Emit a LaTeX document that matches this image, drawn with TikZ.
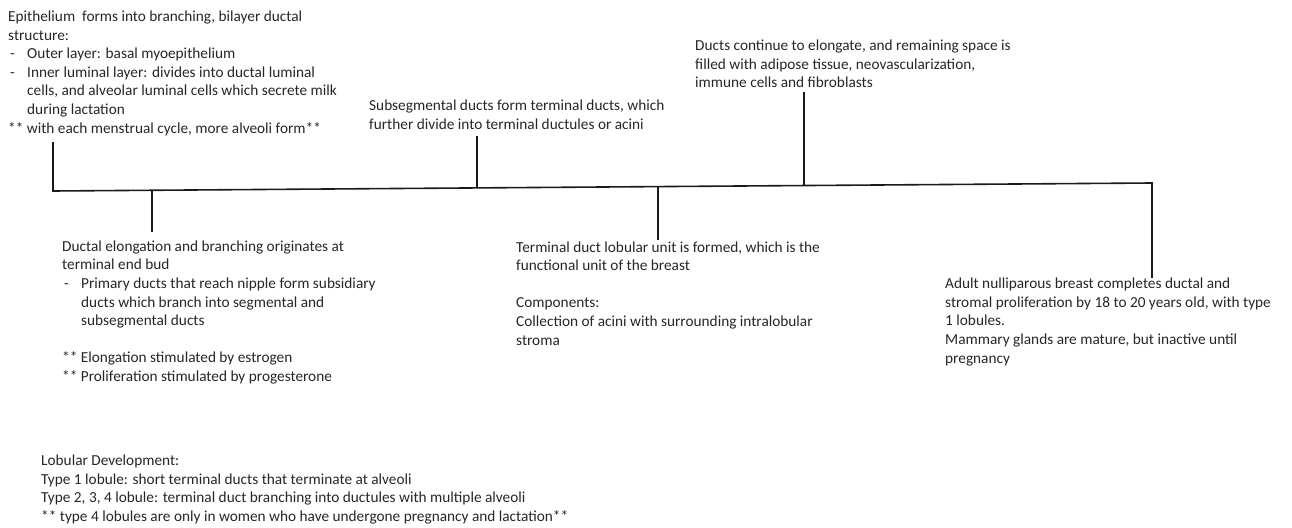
\documentclass[tikz,border=0pt]{standalone}
\usepackage{fontspec}
\setmainfont{Carlito}
\definecolor{txt}{HTML}{262626}
\definecolor{ln}{HTML}{1A1A1A}
\newcommand{\dashitem}{\makebox[19pt][l]{\hspace{2pt}-}}
\newcommand{\contitem}{\hspace*{19pt}}
\begin{document}
\begin{tikzpicture}[x=1pt,y=-1pt,
  lbl/.style={inner sep=0pt, anchor=base west, align=left, text=txt,
    font=\fontsize{15.3}{18.6}\selectfont},
  tl/.style={draw=ln, line width=1.6pt}]
\useasboundingbox (0,0) rectangle (1292,527);
% texts (anchored at the baseline of their last line)
\node[lbl] (epi) at (8,133) {Epithelium\ \ forms into branching, bilayer ductal\\
structure:\\
\dashitem Outer layer: basal myoepithelium\\
\dashitem Inner luminal layer: divides into ductal luminal\\
\contitem cells, and alveolar luminal cells which secrete milk\\
\contitem during lactation\\
** with each menstrual cycle, more alveoli form**};
\node[lbl] (sub) at (369,129.6) {Subsegmental ducts form terminal ducts, which\\
further divide into terminal ductules or acini};
\node[lbl] (cont) at (695,88) {Ducts continue to elongate, and remaining space is\\
filled with adipose tissue, neovascularization,\\
immune cells and fibroblasts};
\node[lbl] (elong) at (62,381.5) {Ductal elongation and branching originates at\\
terminal end bud\\
\dashitem Primary ducts that reach nipple form subsidiary\\
\contitem ducts which branch into segmental and\\
\contitem subsegmental ducts\\[18.6pt]
** Elongation stimulated by estrogen\\
** Proliferation stimulated by progesterone};
\node[lbl] (tdlu) at (516,345) {Terminal duct lobular unit is formed, which is the\\
functional unit of the breast\\[18.6pt]
Components:\\
Collection of acini with surrounding intralobular\\
stroma};
\node[lbl] (adult) at (945,363) {Adult nulliparous breast completes ductal and\\
stromal proliferation by 18 to 20 years old, with type\\
1 lobules.\\
Mammary glands are mature, but inactive until\\
pregnancy};
\node[lbl] (lob) at (41,521.5) {Lobular Development:\\
Type 1 lobule: short terminal ducts that terminate at alveoli\\
Type 2, 3, 4 lobule: terminal duct branching into ductules with multiple alveoli\\
** type 4 lobules are only in women who have undergone pregnancy and lactation**};
% timeline coordinates
\coordinate (L) at (53,191);
\coordinate (R) at (1152,183);
\coordinate (j2) at (152,190.3);
\coordinate (j3) at (477,187.9);
\coordinate (j4) at (658,186.6);
\coordinate (j5) at (804,185.5);
\coordinate (t1) at (53,143);
\coordinate (t2) at (152,232);
\coordinate (t3) at (477,136);
\coordinate (t4) at (658,240);
\coordinate (t5) at (804,92);
\coordinate (t6) at (1152,277);
\draw[tl, line cap=rect] (t1) -- (L) -- (R) -- (t6);
\draw[tl] (j2) -- (t2);
\draw[tl] (j3) -- (t3);
\draw[tl] (j4) -- (t4);
\draw[tl] (j5) -- (t5);
\end{tikzpicture}
\end{document}
